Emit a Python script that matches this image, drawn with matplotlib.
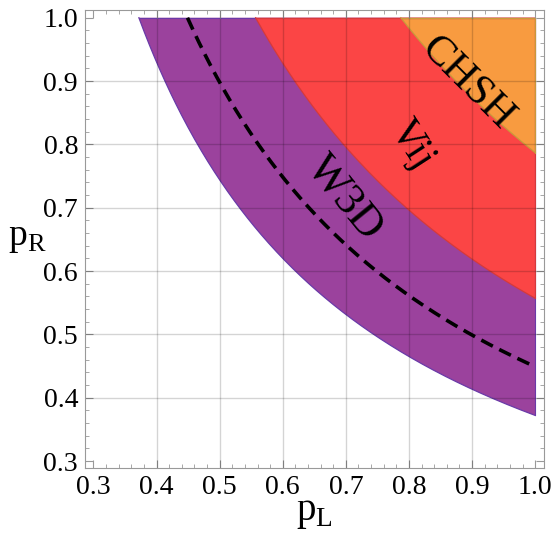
import numpy as np
from matplotlib import pyplot as plt
from matplotlib.ticker import MultipleLocator

plt.rcParams['font.family'] = ['Liberation Serif', 'DejaVu Serif']
plt.rcParams['mathtext.fontset'] = 'custom'
plt.rcParams['mathtext.rm'] = 'Liberation Serif'

# thresholds on pL * pR
region_names = ['W3D', 'Vij', 'CHSH']
region_bounds = [0.372, 0.557, 0.787]
region_colors = ['#9b429d', '#fb4545', '#f89b40']
edge_colors = ['#6a3aa8', '#d63a3a', '#c89a3a']
dashed_bound = 0.449

label_pos = [(0.698, 0.716), (0.804, 0.80), (0.892, 0.896)]
label_rot = [-51, -57, -45]
label_size = [32, 30, 31]

x_ticks = [0.3, 0.4, 0.5, 0.6, 0.7, 0.8, 0.9, 1.0]
y_ticks = [0.3, 0.4, 0.5, 0.6, 0.7, 0.8, 0.9, 1.0]

fig = plt.figure(figsize=(5.54, 5.33), dpi=100)
ax = fig.add_axes([0.1534, 0.122, 0.8286, 0.859])

for b, fc, ec in zip(region_bounds, region_colors, edge_colors):
    pl = np.linspace(b, 1.0, 300)
    pr = b / pl
    xs = np.concatenate([pl, [1.0, b]])
    ys = np.concatenate([pr, [1.0, 1.0]])
    ax.fill(xs, ys, facecolor=fc, edgecolor='none', zorder=1)
    ax.plot(pl, pr, color=ec, lw=0.9, zorder=1.5)
    ax.plot([1.0, 1.0], [b, 1.0], color=ec, lw=0.8, zorder=1.5)
    ax.plot([b, 1.0], [1.0, 1.0], color=ec, lw=0.8, zorder=1.5)

pl = np.linspace(dashed_bound, 1.0, 300)
ax.plot(pl, dashed_bound / pl, color='black', lw=2.6, ls=(0, (3.6, 2.0)), zorder=3)

for name, (x, y), r, s in zip(region_names, label_pos, label_rot, label_size):
    ax.text(x, y, name, rotation=r, fontsize=s, ha='center', va='center',
            rotation_mode='anchor', zorder=4)

for v in [0.4, 0.5, 0.6, 0.7, 0.8, 0.9]:
    ax.axvline(v, color='black', alpha=0.17, lw=1.0, zorder=2)
    ax.axhline(v, color='black', alpha=0.17, lw=1.0, zorder=2)

ax.set_xlim(0.2866, 1.014)
ax.set_ylim(0.289, 1.012)
ax.set_xticks(x_ticks)
ax.set_yticks(y_ticks)
ax.set_xticklabels([f'{t:.1f}' for t in x_ticks], fontfamily='Liberation Serif')
ax.set_yticklabels([f'{t:.1f}' for t in y_ticks], fontfamily='Liberation Serif')
ax.xaxis.set_minor_locator(MultipleLocator(0.02))
ax.yaxis.set_minor_locator(MultipleLocator(0.02))
ax.tick_params(which='both', direction='in', top=True, right=True, color='#999999')
ax.tick_params(which='major', length=6, labelsize=20, pad=5)
ax.tick_params(which='minor', length=3)
for s in ax.spines.values():
    s.set_color('#999999')

ax.set_xlabel(r'$\mathrm{p}_{\mathrm{L}}$', fontsize=28, labelpad=-4)
fig.text(27 / 554, 1 - 238 / 533, r'$\mathrm{p}_{\mathrm{R}}$', fontsize=27,
         ha='center', va='center')

fig.savefig('out.png', dpi=100)
